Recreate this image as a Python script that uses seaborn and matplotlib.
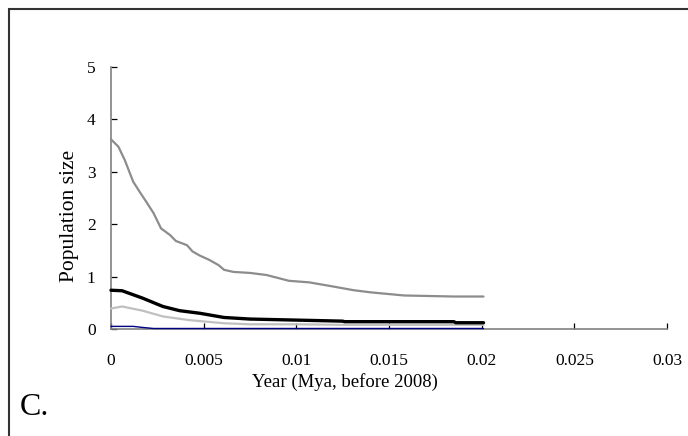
import matplotlib
matplotlib.use("Agg")
import matplotlib.pyplot as plt
import seaborn as sns
import pandas as pd
from matplotlib.patches import Rectangle

# ---- data ----
upper_x = [0, 0.0004, 0.00075, 0.0012, 0.0016, 0.0019, 0.0023, 0.0027, 0.0032, 0.0035,
           0.0041, 0.0044, 0.0048, 0.0053, 0.0058, 0.0061, 0.0066, 0.0075, 0.0084,
           0.0096, 0.0107, 0.012, 0.0131, 0.014, 0.0149, 0.0158, 0.0185, 0.0201]
upper_y = [3.62, 3.48, 3.22, 2.81, 2.59, 2.43, 2.21, 1.92, 1.79, 1.68,
           1.60, 1.48, 1.40, 1.32, 1.22, 1.13, 1.09, 1.07, 1.03,
           0.92, 0.89, 0.81, 0.74, 0.70, 0.67, 0.64, 0.62, 0.62]

black_x = [0, 0.0006, 0.0017, 0.0028, 0.0037, 0.0048, 0.0061, 0.0075, 0.010, 0.0125,
           0.0126, 0.0185, 0.0186, 0.0201]
black_y = [0.74, 0.73, 0.59, 0.43, 0.35, 0.30, 0.22, 0.19, 0.17, 0.15,
           0.14, 0.14, 0.12, 0.12]

light_x = [0, 0.0006, 0.0017, 0.0028, 0.0042, 0.0061, 0.0075, 0.010, 0.0125, 0.0201]
light_y = [0.39, 0.43, 0.35, 0.24, 0.17, 0.11, 0.09, 0.09, 0.08, 0.08]

blue_x = [0, 0.0012, 0.0017, 0.0023, 0.0201]
blue_y = [0.05, 0.05, 0.03, 0.01, 0.01]

x_ticks = [0, 0.005, 0.01, 0.015, 0.02, 0.025, 0.03]
x_tick_labels = ["0", "0.005", "0.01", "0.015", "0.02", "0.025", "0.03"]
y_ticks = [0, 1, 2, 3, 4, 5]

sns.set_theme(style="white")
plt.rcParams["font.family"] = ["Liberation Serif", "DejaVu Serif"]

fig = plt.figure(figsize=(6.88, 4.36), dpi=100)
ax = fig.add_axes([0.1613, 0.2454, 0.8082, 0.6009])

series = [
    (upper_x, upper_y, "#8c8c8c", 1.6),
    (light_x, light_y, "#c0c0c0", 1.6),
    (black_x, black_y, "#000000", 2.4),
    (blue_x, blue_y, "#000080", 1.0),
]

for xs, ys, col, lw in series:
    df = pd.DataFrame({"x": xs, "y": ys})
    sns.lineplot(data=df, x="x", y="y", ax=ax, color=col, lw=lw,
                 estimator=None, sort=False, clip_on=False, zorder=3)

ax.set_xlim(0, 0.03)
ax.set_ylim(0, 5)
ax.set_xticks(x_ticks)
ax.set_xticklabels(x_tick_labels)
ax.set_yticks(y_ticks)

for s in ["top", "right"]:
    ax.spines[s].set_visible(False)
for s in ["left", "bottom"]:
    ax.spines[s].set_color("#808080")
    ax.spines[s].set_linewidth(1.2)
    ax.spines[s].set_zorder(2)

ax.tick_params(axis="x", bottom=True, direction="in", length=4, width=0.9, color="black",
               pad=17, labelsize=12.5, labelcolor="black")
ax.tick_params(axis="y", left=True, direction="in", length=4, width=0.9, color="black",
               pad=11, labelsize=12.5, labelcolor="black")

ax.set_xlabel("Year (Mya, before 2008)", fontsize=13.5, color="black")
ax.xaxis.set_label_coords(0.42, -0.17)
ax.set_ylabel("Population size", fontsize=15.5, color="black")
ax.yaxis.set_label_coords(-0.058, 0.43)

fig.text(0.028, 0.033, "C.", fontsize=23, color="black", ha="left", va="bottom")

# outer frame (cropped at right/bottom)
fig.patches.append(Rectangle((8.5 / 688, -0.2), 1.5, 1.2 - 8.5 / 436,
                             transform=fig.transFigure, fill=False,
                             ec="#333333", lw=1.5))

fig.savefig("out.png", dpi=100)
